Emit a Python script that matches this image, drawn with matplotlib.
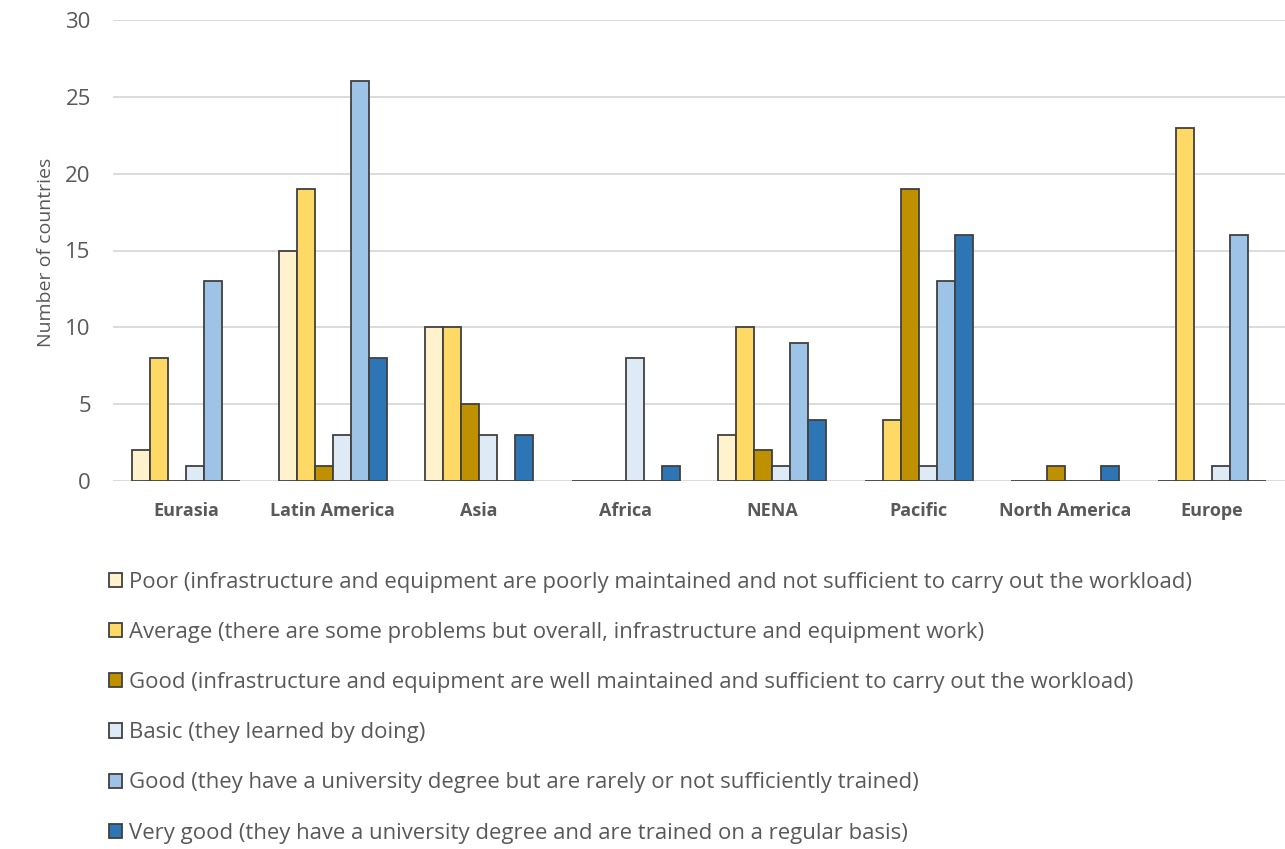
import matplotlib
matplotlib.use("Agg")
import matplotlib.pyplot as plt
import numpy as np

plt.rcParams['font.family'] = ['Open Sans', 'DejaVu Sans']

regions = ["Eurasia", "Latin America", "Asia", "Africa", "NENA",
           "Pacific", "North America", "Europe"]

series_labels = [
    "Poor (infrastructure and equipment are poorly maintained and not sufficient to carry out the workload)",
    "Average (there are some problems but overall, infrastructure and equipment work)",
    "Good (infrastructure and equipment are well maintained and sufficient to carry out the workload)",
    "Basic (they learned by doing)",
    "Good (they have a university degree but are rarely or not sufficiently trained)",
    "Very good (they have a university degree and are trained on a regular basis)",
]

poor_infra = [2, 15, 10, 0, 3, 0, 0, 0]
average_infra = [8, 19, 10, 0, 10, 4, 0, 23]
good_infra = [0, 1, 5, 0, 2, 19, 1, 0]
basic_staff = [1, 3, 3, 8, 1, 1, 0, 1]
good_staff = [13, 26, 0, 0, 9, 13, 0, 16]
very_good_staff = [0, 8, 3, 1, 4, 16, 1, 0]

y_ticks = [0, 5, 10, 15, 20, 25, 30]

colors = ["#FFF2CC", "#FFD966", "#BF9000", "#DEEBF7", "#9DC3E6", "#2E75B6"]
values = [poor_infra, average_infra, good_infra, basic_staff, good_staff, very_good_staff]

text_gray = "#595959"

fig = plt.figure(figsize=(12.85, 8.49), dpi=100)
ax = fig.add_axes([113 / 1285, 1 - 481 / 849, 1 - 113 / 1285, (481 - 20) / 849])

x = np.arange(len(regions))
bar_w = 0.123
n = len(values)
for i, (vals, col, lab) in enumerate(zip(values, colors, series_labels)):
    offs = (i - (n - 1) / 2) * bar_w
    ax.bar(x + offs, vals, width=bar_w, color=col, edgecolor="#404040",
           linewidth=1.3, label=lab, zorder=3)

ax.set_xlim(-0.5, len(regions) - 0.5)
ax.set_ylim(0, 30)
ax.set_yticks(y_ticks)
ax.set_yticklabels([str(t) for t in y_ticks], fontsize=16, color=text_gray)
ax.set_xticks(x)
ax.set_xticklabels(regions, fontsize=13, fontweight="bold", color=text_gray)
ax.tick_params(axis="both", length=0)
ax.tick_params(axis="y", pad=16)
ax.tick_params(axis="x", pad=15)
ax.yaxis.grid(True, color="#D9D9D9", linewidth=1.3, zorder=0)
ax.set_axisbelow(True)
for s in ax.spines.values():
    s.set_visible(False)

fig.text(46 / 1285, 1 - 252 / 849, "Number of countries", rotation=90,
         ha="center", va="center", fontsize=14, color=text_gray)

leg = fig.legend(loc="upper left", bbox_to_anchor=(100 / 1285, 1 - 563 / 849),
                 ncol=1, frameon=False, fontsize=15.9, labelcolor=text_gray,
                 handlelength=0.6, handleheight=0.6, handletextpad=0.3,
                 labelspacing=1.32, borderaxespad=0)

fig.savefig("out.png", dpi=100, facecolor="white")
